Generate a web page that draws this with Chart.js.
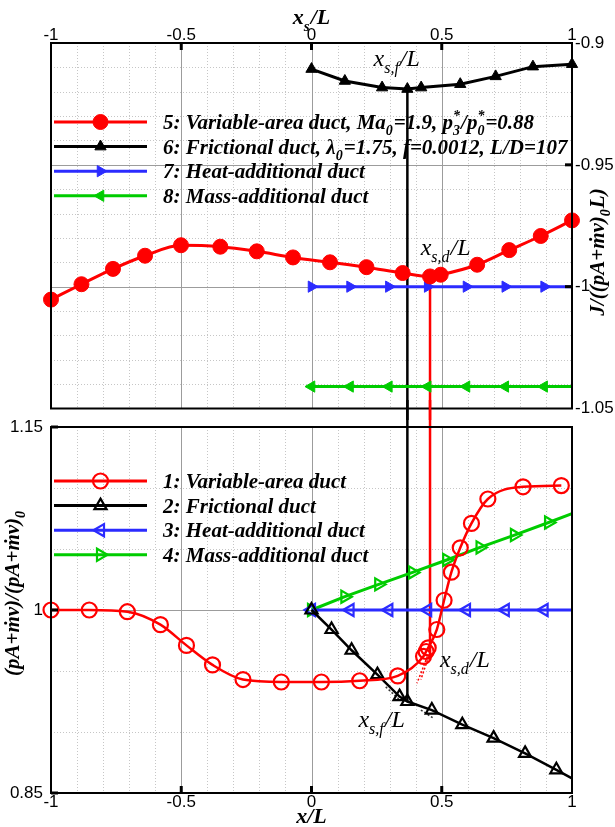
<!DOCTYPE html>
<html>
<head>
<meta charset="utf-8">
<script src="https://cdn.jsdelivr.net/npm/chart.js@4.4.1/dist/chart.umd.min.js"></script>
<style>
  body { margin: 0; background: #fff; }
  #wrap { position: relative; width: 615px; height: 827px; }
  canvas { position: absolute; left: 0; }
  #topChart { top: 0; }
  #bottomChart { top: 400px; }
</style>
</head>
<body>
<div id="wrap">
  <canvas id="topChart" width="615" height="420"></canvas>
  <canvas id="bottomChart" width="615" height="427"></canvas>
</div>
<script>
// ---------- upper panel: J/((pA+mv)_0 L) against shock position x_s/L ----------
const xsArea = [-1, -0.883, -0.762, -0.639, -0.501, -0.35, -0.21, -0.071, 0.071, 0.211, 0.35, 0.455, 0.496, 0.636, 0.759, 0.88, 1];
const jArea = [-1.0053, -0.999, -0.9927, -0.9873, -0.983, -0.9836, -0.9855, -0.988, -0.990, -0.992, -0.9944, -0.9958, -0.9951, -0.991, -0.985, -0.9792, -0.9728];
const xsFric = [0, 0.128, 0.271, 0.368, 0.421, 0.571, 0.707, 0.85, 1];
const jFric = [-0.9107, -0.9156, -0.9183, -0.9189, -0.9183, -0.9169, -0.9137, -0.9097, -0.9087];
const xsHeat = [0, 0.148, 0.297, 0.446, 0.595, 0.744, 0.893, 1];
const jHeat = [-1, -1, -1, -1, -1, -1, -1, -1];
const xsMass = [0, 0.148, 0.297, 0.446, 0.595, 0.744, 0.893, 1];
const jMass = [-1.041, -1.041, -1.041, -1.041, -1.041, -1.041, -1.041, -1.041];

// ---------- lower panel: (pA+mv)/(pA+mv)_0 along x/L ----------
const xArea = [-1, -0.853, -0.707, -0.58, -0.48, -0.38, -0.263, -0.116, 0.038, 0.185, 0.331, 0.43, 0.44, 0.448, 0.481, 0.509, 0.537, 0.571, 0.614, 0.677, 0.812, 0.959];
const pArea = [1, 1, 0.9986, 0.988, 0.971, 0.955, 0.943, 0.941, 0.941, 0.942, 0.946, 0.962, 0.966, 0.969, 0.984, 1.008, 1.031, 1.051, 1.071, 1.091, 1.101, 1.102];
const xFric = [0, 0.077, 0.154, 0.253, 0.338, 0.368, 0.462, 0.579, 0.699, 0.82, 0.94, 1];
const pFric = [1, 0.984, 0.967, 0.947, 0.929, 0.925, 0.918, 0.906, 0.895, 0.8825, 0.869, 0.862];
const xHeat = [0, 0.148, 0.297, 0.446, 0.595, 0.744, 0.893, 1];
const pHeat = [1, 1, 1, 1, 1, 1, 1, 1];
const xMass = [0, 0.128, 0.258, 0.388, 0.519, 0.647, 0.779, 0.91, 1];
const pMass = [1, 1.0109, 1.021, 1.0308, 1.041, 1.0513, 1.0614, 1.0717, 1.079];

// shock locations (frictional / variable-area) and weak traces beside them
const xsF = 0.368, xsD = 0.455;
const traceRed = [[[0.445, 0.962], [0.405, 0.94]], [[0.45, 0.962], [0.42, 0.943]]];
const traceBlack = [[[0.285, 0.937], [0.335, 0.927]], [[0.42, 0.918], [0.47, 0.911]]];

// tick labels
const xTicks = [-1, -0.5, 0, 0.5, 1];
const jTicks = [-1.05, -1, -0.95, -0.9];
const pTicks = [0.85, 1, 1.15];

const SERIF = '"Liberation Serif", "DejaVu Serif", serif';
const SANS = '"Liberation Sans", Arial, sans-serif';
const RED = '#ff0000', BLACK = '#000000', BLUE = '#2b2bff', GREEN = '#00cc00';

const pts = (xs, ys) => xs.map((x, i) => ({ x, y: ys[i] }));
const hideLast = (n, r) => Array.from({ length: n }, (_, i) => (i === n - 1 ? 0 : r));

// marker specs shared by datasets and the hand-drawn legends
const mk = {
  r5: { style: 'circle', rot: 0, r: 7.5, fill: true },
  b6: { style: 'triangle', rot: 0, r: 6.5, fill: true },
  u7: { style: 'triangle', rot: 90, r: 6.5, fill: true },
  g8: { style: 'triangle', rot: -90, r: 6.5, fill: true },
  r1: { style: 'circle', rot: 0, r: 7.5, fill: false },
  b2: { style: 'triangle', rot: 0, r: 7, fill: false },
  u3: { style: 'triangle', rot: -90, r: 7, fill: false },
  g4: { style: 'triangle', rot: 90, r: 7, fill: false }
};

function series(xs, ys, color, m, extra) {
  return Object.assign({
    data: pts(xs, ys),
    borderColor: color,
    borderWidth: 3,
    pointStyle: m.style,
    pointRotation: m.rot,
    pointRadius: m.r,
    pointBackgroundColor: m.fill ? color : 'rgba(0,0,0,0)',
    pointBorderColor: color,
    pointBorderWidth: m.fill ? 1 : 2.2,
    pointHoverRadius: 0,
    tension: 0,
    clip: false
  }, extra || {});
}

function plainLine(data, color, width, dash) {
  return {
    data, borderColor: color, borderWidth: width, borderDash: dash || [],
    pointRadius: 0, pointHoverRadius: 0, tension: 0, clip: false
  };
}

// ---------- drawing helpers ----------
function drawMarker(ctx, m, x, y, color, lw) {
  ctx.save();
  ctx.beginPath();
  if (m.style === 'circle') {
    ctx.arc(x, y, m.r, 0, Math.PI * 2);
  } else {
    let a = m.rot * Math.PI / 180;
    for (let i = 0; i < 3; i++) {
      const px = x + Math.sin(a) * m.r, py = y - Math.cos(a) * m.r;
      if (i) ctx.lineTo(px, py); else ctx.moveTo(px, py);
      a += 2 * Math.PI / 3;
    }
    ctx.closePath();
  }
  ctx.fillStyle = color;
  ctx.strokeStyle = color;
  ctx.lineWidth = m.fill ? 1 : lw;
  if (m.fill) ctx.fill();
  ctx.stroke();
  ctx.restore();
}

// text with subscripts: parts are strings or {sub, sup}
function drawRich(ctx, parts, x, y, size, weight, align) {
  const main = `italic ${weight} ${size}px ${SERIF}`;
  const small = `italic ${weight} ${Math.round(size * 0.66)}px ${SERIF}`;
  const seg = parts.map(p => {
    if (typeof p === 'string') { ctx.font = main; return { p, w: ctx.measureText(p).width }; }
    ctx.font = small;
    const w = Math.max(p.sub ? ctx.measureText(p.sub).width : 0, p.sup ? ctx.measureText(p.sup).width : 0);
    return { p, w: w + 1 };
  });
  const total = seg.reduce((s, q) => s + q.w, 0);
  let cx = align === 'center' ? x - total / 2 : align === 'right' ? x - total : x;
  ctx.textAlign = 'left';
  ctx.textBaseline = 'alphabetic';
  ctx.fillStyle = '#000';
  seg.forEach(({ p, w }) => {
    if (typeof p === 'string') {
      ctx.font = main;
      ctx.fillText(p, cx, y);
    } else {
      ctx.font = small;
      if (p.sub) ctx.fillText(p.sub, cx, y + size * 0.3);
      if (p.sup) ctx.fillText(p.sup, cx, y - size * 0.42);
    }
    cx += w;
  });
}

function drawLegend(chart, rows, top) {
  const { ctx, chartArea: a } = chart;
  rows.forEach((row, i) => {
    const y = a.top + top + i * 24.6;
    ctx.save();
    ctx.strokeStyle = row.color;
    ctx.lineWidth = 3;
    ctx.beginPath();
    ctx.moveTo(a.left + 3, y);
    ctx.lineTo(a.left + 96, y);
    ctx.stroke();
    ctx.restore();
    drawMarker(ctx, row.m, a.left + 49.5, y, row.color, 2.2);
    drawRich(ctx, row.text, a.left + 112, y + 7, 21, 'bold', 'left');
  });
}

// grid, frame and inward tick marks
const framePlugin = {
  id: 'frame',
  beforeDatasetsDraw(chart, args, o) {
    const { ctx, chartArea: a } = chart;
    const xs = chart.scales.x, ys = chart.scales.y;
    ctx.save();
    ctx.lineWidth = 1;
    const v = (val, col, dash) => {
      const px = Math.round(xs.getPixelForValue(val)) + 0.5;
      ctx.strokeStyle = col; ctx.setLineDash(dash);
      ctx.beginPath(); ctx.moveTo(px, a.top); ctx.lineTo(px, a.bottom); ctx.stroke();
    };
    const h = (val, col, dash) => {
      const py = Math.round(ys.getPixelForValue(val)) + 0.5;
      ctx.strokeStyle = col; ctx.setLineDash(dash);
      ctx.beginPath(); ctx.moveTo(a.left, py); ctx.lineTo(a.right, py); ctx.stroke();
    };
    o.minorX.forEach(val => v(val, '#c6c6c6', [1, 2]));
    o.minorY.forEach(val => h(val, '#c6c6c6', [1, 2]));
    o.majorX.forEach(val => v(val, '#9c9c9c', []));
    o.majorY.forEach(val => h(val, '#9c9c9c', []));
    ctx.restore();
  },
  afterDatasetsDraw(chart, args, o) {
    const { ctx, chartArea: a } = chart;
    const xs = chart.scales.x, ys = chart.scales.y;
    ctx.save();
    ctx.strokeStyle = '#000';
    ctx.lineWidth = 2;
    ctx.strokeRect(a.left, a.top, a.right - a.left, a.bottom - a.top);
    ctx.lineWidth = 3;
    const len = 7;
    o.tickX.forEach(val => {
      const px = xs.getPixelForValue(val);
      const y0 = o.xSide === 'top' ? a.top : a.bottom;
      const dir = o.xSide === 'top' ? 1 : -1;
      ctx.beginPath(); ctx.moveTo(px, y0); ctx.lineTo(px, y0 + dir * len); ctx.stroke();
    });
    o.tickY.forEach(val => {
      const py = ys.getPixelForValue(val);
      const x0 = o.ySide === 'left' ? a.left : a.right;
      const dir = o.ySide === 'left' ? 1 : -1;
      ctx.beginPath(); ctx.moveTo(x0, py); ctx.lineTo(x0 + dir * len, py); ctx.stroke();
    });
    ctx.restore();
  }
};

const range = (from, to, step) => {
  const out = [];
  for (let k = 0; from + k * step <= to + 1e-9; k++) out.push(+(from + k * step).toFixed(4));
  return out;
};

function axis(pos, min, max, ticks, size, pad) {
  return {
    type: 'linear', position: pos, min, max,
    afterBuildTicks: s => { s.ticks = ticks.map(value => ({ value })); },
    afterFit: s => { if (pos === 'top' || pos === 'bottom') s.height = size; else s.width = size; },
    grid: { display: false, drawTicks: false },
    border: { display: false },
    ticks: {
      color: '#000', padding: pad, autoSkip: false, maxRotation: 0,
      font: { family: SANS, size: 17, lineHeight: 1 },
      callback: val => String(val)
    }
  };
}

const common = {
  responsive: false,
  animation: false,
  events: [],
  plugins: { legend: { display: false }, tooltip: { enabled: false } }
};

// ---------- upper chart ----------
new Chart(document.getElementById('topChart'), {
  type: 'line',
  data: {
    datasets: [
      series(xsArea, jArea, RED, mk.r5, { cubicInterpolationMode: 'monotone', tension: 0.4 }),
      series(xsFric, jFric, BLACK, mk.b6),
      series(xsHeat, jHeat, BLUE, mk.u7, { pointRadius: hideLast(xsHeat.length, mk.u7.r) }),
      series(xsMass, jMass, GREEN, mk.g8, { pointRadius: hideLast(xsMass.length, mk.g8.r) }),
      plainLine([{ x: xsF, y: jFric[3] }, { x: xsF, y: -1.08 }], BLACK, 2.5),
      plainLine([{ x: xsD, y: jArea[11] }, { x: xsD, y: -1.08 }], RED, 2.5)
    ]
  },
  options: Object.assign({}, common, {
    layout: { padding: { left: 51, right: 0, top: 0, bottom: 7 } },
    scales: {
      x: axis('top', -1, 1, xTicks, 43, -1),
      y: axis('right', -1.05, -0.9, jTicks, 43, 3)
    },
    plugins: Object.assign({}, common.plugins, {
      frame: {
        minorX: range(-0.9, 0.9, 0.1), majorX: [-0.5, 0, 0.5],
        minorY: range(-1.04, -0.91, 0.01), majorY: [-1, -0.95],
        tickX: [-0.5, 0, 0.5], xSide: 'top', tickY: [-1, -0.95], ySide: 'right'
      }
    })
  }),
  plugins: [framePlugin, {
    id: 'upperText',
    afterDraw(chart) {
      const { ctx, scales: { x, y } } = chart;
      drawRich(ctx, ['x', { sub: 's' }, '/L'], x.getPixelForValue(0), 24, 22, 'bold', 'center');
      drawRich(ctx, ['x', { sub: 's,f' }, '/L'], x.getPixelForValue(0.327), y.getPixelForValue(-0.9095), 24, 'normal', 'center');
      drawRich(ctx, ['x', { sub: 's,d' }, '/L'], x.getPixelForValue(0.515), y.getPixelForValue(-0.9871), 24, 'normal', 'center');
      ctx.save();
      ctx.translate(604, 252);
      ctx.rotate(-Math.PI / 2);
      drawRich(ctx, ['J/((pA+ṁv)', { sub: '0' }, 'L)'], 0, 0, 21, 'bold', 'center');
      ctx.restore();
      drawLegend(chart, [
        { color: RED, m: mk.r5, text: ['5: Variable-area duct, Ma', { sub: '0' }, '=1.9, p', { sup: '*', sub: '3' }, '/p', { sup: '*', sub: '0' }, '=0.88'] },
        { color: BLACK, m: mk.b6, text: ['6: Frictional duct, λ', { sub: '0' }, '=1.75, f=0.0012, L/D=107'] },
        { color: BLUE, m: mk.u7, text: ['7: Heat-additional duct'] },
        { color: GREEN, m: mk.g8, text: ['8: Mass-additional duct'] }
      ], 79);
    }
  }]
});

// ---------- lower chart ----------
new Chart(document.getElementById('bottomChart'), {
  type: 'line',
  data: {
    datasets: [
      series(xArea, pArea, RED, mk.r1, { cubicInterpolationMode: 'monotone', tension: 0.4, borderWidth: 2.5 }),
      series(xFric, pFric, BLACK, mk.b2, { borderWidth: 2.5, pointRadius: hideLast(xFric.length, mk.b2.r) }),
      series(xHeat, pHeat, BLUE, mk.u3, { pointRadius: hideLast(xHeat.length, mk.u3.r) }),
      series(xMass, pMass, GREEN, mk.g4, { pointRadius: hideLast(xMass.length, mk.g4.r) }),
      plainLine([{ x: xsF, y: 1.18 }, { x: xsF, y: pFric[5] }], BLACK, 2.5),
      plainLine([{ x: xsD, y: 1.18 }, { x: xsD, y: 0.961 }], RED, 2.5),
      ...traceRed.map(s => plainLine(s.map(([x, y]) => ({ x, y })), RED, 1.5, [2, 2])),
      ...traceBlack.map(s => plainLine(s.map(([x, y]) => ({ x, y })), '#333', 1.5, [2, 2]))
    ]
  },
  options: Object.assign({}, common, {
    layout: { padding: { left: 0, right: 43, top: 27, bottom: 0 } },
    scales: {
      x: axis('bottom', -1, 1, xTicks, 34, 1),
      y: axis('left', 0.85, 1.15, pTicks, 51, 8)
    },
    plugins: Object.assign({}, common.plugins, {
      frame: {
        minorX: range(-0.9, 0.9, 0.1), majorX: [-0.5, 0, 0.5],
        minorY: [0.9, 0.95, 1.05, 1.1], majorY: [1],
        tickX: [-0.5, 0, 0.5], xSide: 'bottom', tickY: [0.85, 1, 1.15], ySide: 'left'
      }
    })
  }),
  plugins: [framePlugin, {
    id: 'lowerText',
    afterDraw(chart) {
      const { ctx, scales: { x, y } } = chart;
      drawRich(ctx, ['x/L'], x.getPixelForValue(0), 423, 22, 'bold', 'center');
      drawRich(ctx, ['x', { sub: 's,d' }, '/L'], x.getPixelForValue(0.493), y.getPixelForValue(0.9535), 24, 'normal', 'left');
      drawRich(ctx, ['x', { sub: 's,f' }, '/L'], x.getPixelForValue(0.18), y.getPixelForValue(0.9044), 24, 'normal', 'left');
      ctx.save();
      ctx.translate(19, 193);
      ctx.rotate(-Math.PI / 2);
      drawRich(ctx, ['(pA+ṁv)/(pA+ṁv)', { sub: '0' }], 0, 0, 21, 'bold', 'center');
      ctx.restore();
      drawLegend(chart, [
        { color: RED, m: mk.r1, text: ['1: Variable-area duct'] },
        { color: BLACK, m: mk.b2, text: ['2: Frictional duct'] },
        { color: BLUE, m: mk.u3, text: ['3: Heat-additional duct'] },
        { color: GREEN, m: mk.g4, text: ['4: Mass-additional duct'] }
      ], 54);
    }
  }]
});
</script>
</body>
</html>
